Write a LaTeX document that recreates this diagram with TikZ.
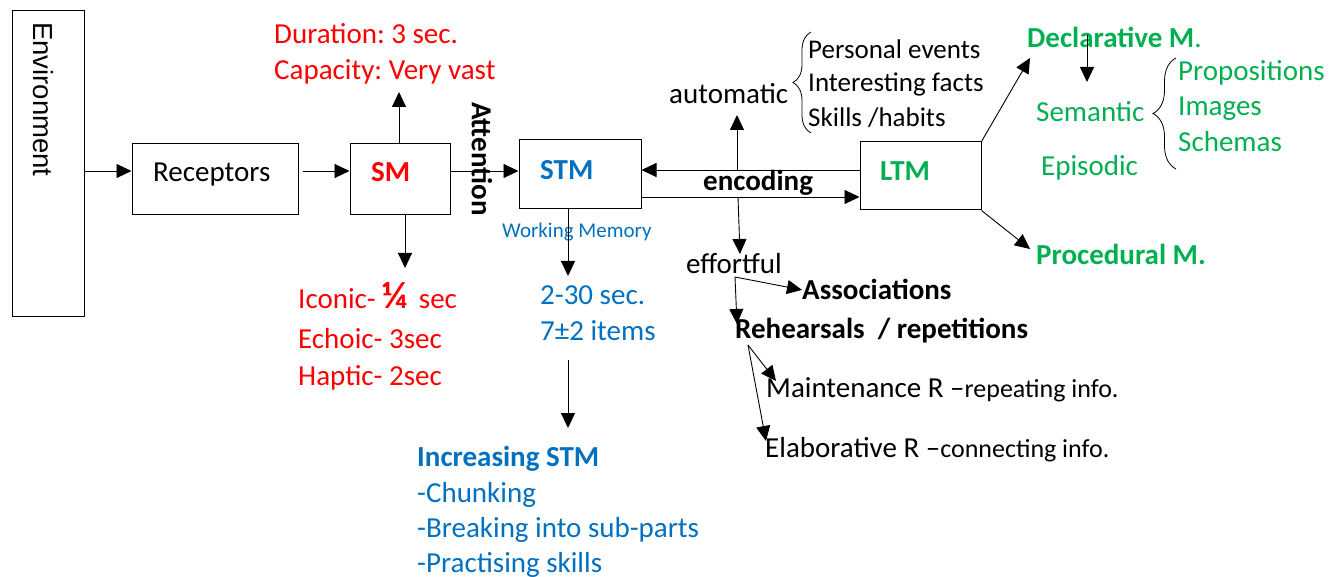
\documentclass[tikz,border=0pt]{standalone}
\usepackage{fontspec}
\setmainfont{Carlito}
\newfontfamily\envfont{Liberation Sans}
\usetikzlibrary{arrows.meta,decorations.pathreplacing}
\definecolor{smred}{RGB}{255,0,0}
\definecolor{stmblue}{RGB}{0,112,192}
\definecolor{ltmgreen}{RGB}{0,176,80}
\frenchspacing
\tikzset{
 box/.style={draw, line width=1pt, inner sep=0pt},
 arr/.style={line width=0.9pt, -{Triangle[length=15pt,width=14pt]}},
 txt/.style={anchor=base west, inner sep=0pt, font=\fontsize{29}{35}\selectfont},
 lst/.style={anchor=base west, inner sep=0pt, font=\fontsize{27}{32}\selectfont},
 bld/.style={anchor=base west, inner sep=0pt, font=\fontsize{29}{35}\selectfont\bfseries},
 brc/.style={decorate, line width=0.8pt},
}

\begin{document}
\begin{tikzpicture}[x=1pt,y=-1pt]
\useasboundingbox (0,0) rectangle (1342,577);
% boxes
\node[box, minimum width=72pt, minimum height=306pt] (env) at (48,164) {};
\node[box, minimum width=166pt, minimum height=71pt] (rec) at (215,179.5) {};
\node[box, minimum width=100pt, minimum height=71pt] (sm) at (400,179.5) {};
\node[box, minimum width=122pt, minimum height=69pt] (stm) at (580,174.5) {};
\node[box, minimum width=121pt, minimum height=68pt] (ltm) at (920.5,176) {};
\node[rotate=-90, anchor=west, inner sep=0pt, font=\envfont\fontsize{27.5}{32}\selectfont] (envtxt) at (43,22) {Environment};
\node[txt] (rectxt) at (153,182) {Receptors};
\node[bld, smred] (smtxt) at (371,182) {SM};
\node[bld, stmblue] (stmtxt) at (540,180) {STM};
\node[bld, ltmgreen] (ltmtxt) at (880,181) {LTM};
\node[rotate=-90, anchor=west, inner sep=0pt, font=\fontsize{29}{35}\selectfont\bfseries] (att) at (482,102) {Attention};

% sensory memory
\node[txt, smred] (dur) at (274,44) {Duration: 3 sec.};
\node[txt, smred] (capac) at (274,80) {Capacity: Very vast};
\node[txt, smred] (iconic) at (298,309) {Iconic- {\bfseries\fontsize{38}{38}\selectfont ¼}\hspace{5pt} sec};
\node[txt, smred] (echoic) at (298,349) {Echoic- 3sec};
\node[txt, smred] (haptic) at (298,385) {Haptic- 2sec};

% short term memory
\node[anchor=base west, inner sep=0pt, font=\fontsize{21}{25}\selectfont, stmblue] (wm) at (502,238) {Working Memory};
\node[txt, stmblue] (secs) at (540,305) {2-30 sec.};
\node[txt, stmblue] (items) at (540,341) {7±2 items};
\node[bld, stmblue] (incr) at (417,466) {Increasing STM};
\node[txt, stmblue] (chunk) at (417,502) {-Chunking};
\node[txt, stmblue] (breaking) at (417,537) {-Breaking into sub-parts};
\node[txt, stmblue] (practise) at (417,572) {-Practising skills};

% encoding
\node[bld] (encod) at (703,191) {encoding};
\node[txt] (auto) at (669,104) {automatic};
\node[txt] (effort) at (686,274) {effortful};
\node[lst] (pers) at (808,59) {Personal events};
\node[lst] (inter) at (808,92) {Interesting facts};
\node[lst] (skills) at (808,127) {Skills /habits};
\node[bld] (assoc) at (802,300) {Associations};
\node[bld] (rehears) at (735,339) {Rehearsals\ \ / repetitions};
\node[txt] (maint) at (766,397) {Maintenance R --{\fontsize{26}{30}\selectfont repeating info.}};
\node[txt] (elab) at (765,457) {Elaborative R --{\fontsize{26}{30}\selectfont connecting info.}};

% long term memory
\node[txt, ltmgreen] (decl) at (1027,48) {{\bfseries Declarative M}.};
\node[txt, ltmgreen] (sem) at (1036,122) {Semantic};
\node[txt, ltmgreen] (epis) at (1041,176) {Episodic};
\node[txt, ltmgreen] (props) at (1178,81) {Propositions};
\node[txt, ltmgreen] (imgs) at (1178,116) {Images};
\node[txt, ltmgreen] (schem) at (1178,152) {Schemas};
\node[bld, ltmgreen] (proc) at (1036,265) {Procedural M.};

% arrow ends
\coordinate (row) at (0,171);
\coordinate (back) at (0,170);
\coordinate (fwd) at (0,197);
\coordinate (smtop) at (399,92);
\coordinate (smbot) at (405,268);
\coordinate (stmtip) at (568,276);
\coordinate (incstart) at (568,360);
\coordinate (inctip) at (568,428);
\coordinate (autostart) at (737,170);
\coordinate (autotip) at (737,115);
\coordinate (effstart) at (738,197);
\coordinate (efftip) at (740,254);
\coordinate (decltip) at (1030,58);
\coordinate (proctip) at (1030,249);
\coordinate (declstart) at (1087,35);
\coordinate (semtip) at (1087,82);
\coordinate (effsplit) at (735,277);
\coordinate (rehtip) at (737,324);
\coordinate (rehsplit) at (748,345);
\coordinate (mainttip) at (776,381);
\coordinate (elabtip) at (766,441);

\draw[arr] (env.east |- row) -- (rec.west |- row);
\draw[arr, shorten <=4pt] (rec.east |- row) -- (sm.west |- row);
\draw[arr] (sm.east |- row) -- (stm.west |- row);
\draw[arr] (smtop |- sm.north) -- (smtop);
\draw[arr] (smbot |- sm.south) -- (smbot);
\draw[arr] (ltm.west |- back) -- (stm.east |- back);
\draw[arr] (stm.east |- fwd) -- (ltm.west |- fwd);
\draw[arr] (stmtip |- stm.south) -- (stmtip);
\draw[arr] (incstart) -- (inctip);
\draw[arr] (autostart) -- (autotip);
\draw[arr] (effstart) -- (efftip);
\draw[arr] (ltm.north east) -- (decltip);
\draw[arr] (ltm.south east) -- (proctip);
\draw[arr] (declstart) -- (semtip);
\draw[arr] (effsplit) -- (assoc.west);
\draw[arr] (effsplit) -- (rehtip);
\draw[arr] (rehsplit) -- (mainttip);
\draw[arr] (rehsplit) -- (elabtip);

% braces
\draw[brc, decoration={brace, amplitude=18pt}] (811,133) -- (811,32);
\draw[brc, decoration={brace, amplitude=23pt}] (1176,169) -- (1176,58);
\end{tikzpicture}
\end{document}
